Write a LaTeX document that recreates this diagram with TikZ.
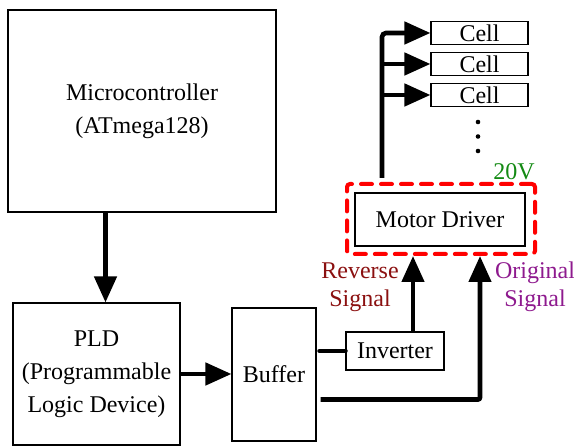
\documentclass[tikz,border=0pt]{standalone}
\usepackage{fontspec}
\setmainfont{Liberation Serif}
\usepackage{tikz}
\usetikzlibrary{positioning, arrows.meta, calc, fit}
\definecolor{revred}{HTML}{8B1010}
\definecolor{origpurple}{HTML}{8E1A8E}
\definecolor{voltgreen}{HTML}{138A13}
\tikzset{
  blok/.style={draw=black, line width=1.1pt, fill=white, align=center,
               font=\fontsize{24}{33}\selectfont, inner sep=0pt},
  flow/.style={-{Triangle[length=26pt, width=22pt]}, line width=4.6pt, draw=black},
  wire/.style={line width=4.6pt, draw=black, line cap=round},
  dashbox/.style={draw=red, line width=4pt, dash pattern=on 11pt off 9pt,
                  line cap=round, rounded corners=3pt, inner sep=0pt},
  note/.style={align=center, font=\fontsize{24}{28}\selectfont},
}

\begin{document}
\begin{tikzpicture}[x=1pt, y=-1pt]
  \useasboundingbox (0,0) rectangle (574,446);
  % main blocks
  \node[blok, minimum width=268pt, minimum height=202pt] (mcu) at (142,111)
    {Microcontroller\\(ATmega128)};
  \node[blok, minimum width=167pt, minimum height=142pt] (pld) at (96.5,374)
    {PLD\\(Programmable\\Logic Device)};
  \node[blok, minimum width=84pt, minimum height=133pt] (buf) at (274,374.5) {Buffer};
  \node[blok, minimum width=98pt, minimum height=38pt] (inv) at (395,351) {Inverter};
  \node[blok, minimum width=170pt, minimum height=53pt] (mot) at (440,219.5) {Motor Driver};
  \node[dashbox, fit={(347,184) (535,254)}] (drv) {};
  \node[font=\fontsize{24}{28}\selectfont, text=voltgreen] (volt) at (514,172) {20V};
  % cells
  \foreach \i/\y in {1/33, 2/64, 3/95}
    \node[blok, minimum width=97pt, minimum height=23pt] (cell\i) at (479.5,\y) {Cell};
  \foreach \y in {122, 136.5, 151}
    \fill (478,\y) circle (2.3pt);
  % connections
  \draw[flow] ([xshift=9pt]pld.north |- mcu.south) -- ([xshift=9pt]pld.north);
  \draw[flow] (pld.east) -- (pld.east -| buf.west);
  \draw[wire] ([xshift=3pt]buf.east |- inv.west) -- (inv.west);
  \draw[flow] ([xshift=18pt]inv.north) -- ([xshift=18pt]inv.north |- drv.south);
  \draw[flow, rounded corners=2pt] ([xshift=4pt, yshift=-25pt]buf.east)
    -| ([xshift=39pt]drv.south);
  \coordinate (bus) at ([xshift=-59pt, yshift=4pt]drv.north);
  \draw[flow, rounded corners=4pt] (bus) |- (cell1.west);
  \draw[flow] (bus |- cell2.west) -- (cell2.west);
  \draw[flow] (bus |- cell3.west) -- (cell3.west);
  % signal labels
  \node[note, text=revred] (rev) at (360,287) {Reverse\\Signal};
  \node[note, text=origpurple] (orig) at (535,287) {Original\\Signal};
\end{tikzpicture}
\end{document}
